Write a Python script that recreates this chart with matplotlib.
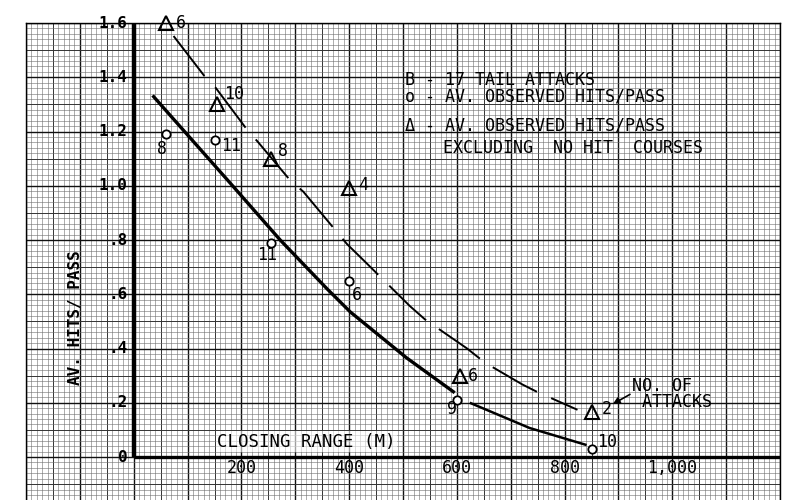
import numpy as np
import matplotlib
matplotlib.use("Agg")
import matplotlib.pyplot as plt

# ---- data ----
circ_x = [60, 150, 255, 400, 600, 850]
circ_y = [1.19, 1.17, 0.79, 0.65, 0.21, 0.03]
circ_n = ["8", "11", "11", "6", "9", "10"]

tri_x = [60, 155, 255, 400, 605, 850]
tri_y = [1.60, 1.30, 1.10, 0.99, 0.30, 0.165]
tri_n = ["6", "10", "8", "4", "6", "2"]

solid_x1 = [35, 180, 272, 359, 402, 507, 596]
solid_y1 = [1.333, 1.008, 0.80, 0.62, 0.535, 0.365, 0.237]
solid_x2 = [624, 735, 841]
solid_y2 = [0.20, 0.107, 0.044]

dash_x = [74, 133, 150, 213, 230, 291, 315, 396, 430, 513, 541, 619, 652, 722, 748, 824]
dash_y = [1.552, 1.40, 1.367, 1.20, 1.163, 1.019, 0.978, 0.785, 0.719, 0.556,
          0.507, 0.40, 0.348, 0.267, 0.241, 0.174]

ytick_vals = [0, 0.2, 0.4, 0.6, 0.8, 1.0, 1.2, 1.4, 1.6]
ytick_labels = ["0", ".2", ".4", ".6", ".8", "1.0", "1.2", "1.4", "1.6"]
xtick_vals = [200, 400, 600, 800, 1000]
xtick_labels = ["200", "400", "600", "800", "1,000"]

legend_title = "B - 17 TAIL ATTACKS"
legend_circle = "o - AV. OBSERVED HITS/PASS"
legend_tri = "\u0394 - AV. OBSERVED HITS/PASS"
legend_tri2 = "EXCLUDING  NO HIT  COURSES"

MONO = "DejaVu Sans Mono"

# ---- figure ----
fig = plt.figure(figsize=(8, 5), dpi=100)
ax = fig.add_axes([26 / 800, 0, 754 / 800, 477 / 500])
ax.set_xlim(-200, 1200)
ax.set_ylim(-0.1585, 1.6)
ax.set_xticks([])
ax.set_yticks([])
for s in ["left", "top", "right"]:
    ax.spines[s].set_linewidth(1.0)
ax.spines["bottom"].set_visible(False)

# graph-paper grid
for gx in np.arange(-200, 1201, 10):
    if gx % 100 == 0:
        ax.axvline(gx, color="#111111", lw=1.0, zorder=0)
    elif gx % 50 == 0:
        ax.axvline(gx, color="#333333", lw=0.7, zorder=0)
    else:
        ax.axvline(gx, color="#6e6e6e", lw=0.4, zorder=0)
for gy in np.arange(-0.16, 1.601, 0.02):
    k = int(round(gy / 0.02))
    if k % 10 == 0:
        ax.axhline(gy, color="#111111", lw=1.0, zorder=0)
    elif k % 5 == 0:
        ax.axhline(gy, color="#333333", lw=0.7, zorder=0)
    else:
        ax.axhline(gy, color="#6e6e6e", lw=0.4, zorder=0)

# heavy axes lines
ax.plot([0, 0], [0, 1.6], color="black", lw=3.2, solid_capstyle="butt", zorder=3)
ax.plot([0, 1200], [0, 0], color="black", lw=2.4, solid_capstyle="butt", zorder=3)

# tick labels
for v, t in zip(ytick_vals, ytick_labels):
    ax.text(-12, v, t, ha="right", va="center", fontsize=11.5, fontweight="bold",
            family=MONO, color="black", zorder=4)
for v, t in zip(xtick_vals, xtick_labels):
    ax.text(v, -0.042, t, ha="center", va="center", fontsize=12,
            family=MONO, color="black", zorder=4)

ax.text(-109, 0.515, "AV. HITS/ PASS", rotation=90, ha="center", va="center",
        fontsize=11.5, fontweight="bold", family=MONO, zorder=4)
ax.text(155, 0.056, "CLOSING RANGE (M)", ha="left", va="center", fontsize=12.5,
        family=MONO, zorder=4,
        bbox=dict(facecolor="white", edgecolor="none", pad=1, alpha=0.6))

# fitted curves
ax.plot(solid_x1, solid_y1, color="black", lw=2.4, zorder=3,
        solid_capstyle="butt", solid_joinstyle="round")
ax.plot(solid_x2, solid_y2, color="black", lw=1.8, zorder=3,
        solid_capstyle="butt", solid_joinstyle="round")
ax.plot(dash_x, dash_y, color="black", lw=1.4, zorder=3,
        linestyle=(0, (26, 8)))

# points
ax.plot(circ_x, circ_y, "o", ms=6, mfc="white", mec="black", mew=1.3, zorder=5,
        clip_on=False)
ax.plot(tri_x, tri_y, "^", ms=10, mfc="none", mec="black", mew=1.5, zorder=5,
        clip_on=False)

circ_off = [(-4, -15), (17, -6), (-4, -12), (8, -14), (-5, -9), (16, 7)]
tri_off = [(15, 0), (17, 10), (12, 8), (14, 3), (13, 0), (15, 3)]
for x, y, n, o in zip(circ_x, circ_y, circ_n, circ_off):
    ax.annotate(n, (x, y), xytext=o, textcoords="offset pixels", ha="center",
                va="center", fontsize=12, family=MONO, zorder=6,
                annotation_clip=False)
for x, y, n, o in zip(tri_x, tri_y, tri_n, tri_off):
    ax.annotate(n, (x, y), xytext=o, textcoords="offset pixels", ha="center",
                va="center", fontsize=12, family=MONO, zorder=6,
                annotation_clip=False)

# legend text block
ax.text(504, 1.36, legend_title + "\n" + legend_circle, ha="left", va="center",
        fontsize=12, family=MONO, linespacing=0.85, zorder=4)
ax.text(504, 1.222, legend_tri, ha="left", va="center", fontsize=12,
        family=MONO, zorder=4)
ax.text(574, 1.141, legend_tri2, ha="left", va="center", fontsize=12,
        family=MONO, zorder=4)

# number of attacks note
ax.annotate("", xy=(885, 0.19), xytext=(926, 0.236),
            arrowprops=dict(arrowstyle="-|>", color="black", lw=1.2,
                            mutation_scale=10), zorder=6)
ax.text(926, 0.232, "NO. OF\n ATTACKS", ha="left", va="center", fontsize=12,
        family=MONO, linespacing=0.85, zorder=4)

fig.savefig("out.png", dpi=100)
